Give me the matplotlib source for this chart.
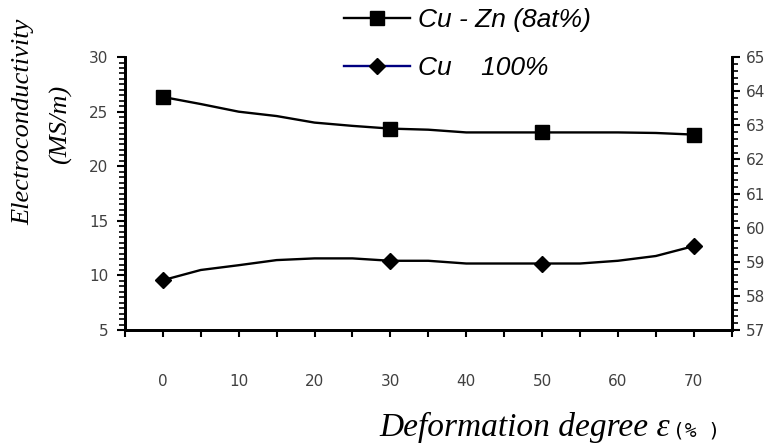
import matplotlib.pyplot as plt
from matplotlib.lines import Line2D
from matplotlib.ticker import MultipleLocator

# deformation degree (%), every 5 %
deform = [0, 5, 10, 15, 20, 25, 30, 35, 40, 45, 50, 55, 60, 65, 70]
# Cu-Zn (8at%) on left axis, MS/m
cu_zn = [26.35, 25.7, 25.0, 24.6, 24.0, 23.7, 23.45, 23.35, 23.1, 23.1, 23.1, 23.1, 23.1, 23.05, 22.9]
# Cu 100% on right axis, MS/m
cu = [58.46, 58.76, 58.90, 59.05, 59.10, 59.10, 59.03, 59.03, 58.95, 58.95, 58.95, 58.95, 59.03, 59.17, 59.46]
measured = [0, 6, 10, 14]  # indices of the measured points (markers)

labels = ['Cu - Zn (8at%)', 'Cu    100%']

fig = plt.figure(figsize=(7.71, 4.46), dpi=100)
ax = fig.add_axes([0.162, 0.260, 0.787, 0.612])
ax2 = ax.twinx()

tick_col = '#404040'

ax.plot(deform, cu_zn, color='black', lw=1.7, marker='s', ms=10,
        markevery=measured, mfc='black', mec='black')
ax2.plot(deform, cu, color='black', lw=1.7, marker='D', ms=8.5,
         markevery=measured, mfc='black', mec='black')

ax.set_xlim(-5, 75)
ax.set_ylim(5, 30)
ax2.set_ylim(57, 65)

ax.xaxis.set_major_locator(MultipleLocator(10))
ax.xaxis.set_minor_locator(MultipleLocator(5))
ax.yaxis.set_major_locator(MultipleLocator(5))
ax.yaxis.set_minor_locator(MultipleLocator(0.5))
ax2.yaxis.set_major_locator(MultipleLocator(1))
ax2.yaxis.set_minor_locator(MultipleLocator(0.2))

for a in (ax, ax2):
    a.spines['top'].set_visible(False)
    for s in ('left', 'right', 'bottom'):
        a.spines[s].set_linewidth(2)

ax.tick_params(axis='x', which='both', direction='out', length=5, width=1.5,
               pad=27, labelsize=11, labelcolor=tick_col)
ax.tick_params(axis='y', which='major', direction='out', length=6, width=1.5,
               pad=6, labelsize=11, labelcolor=tick_col)
ax.tick_params(axis='y', which='minor', direction='out', length=4, width=1.2)
ax2.tick_params(axis='y', which='major', direction='out', length=6, width=1.5,
                pad=4, labelsize=11, labelcolor=tick_col)
ax2.tick_params(axis='y', which='minor', direction='out', length=4, width=1.2)

# y label (two lines)
fig.text(0.030, 0.726, 'Electroconductivity', rotation=90, ha='center', va='center',
         family='Liberation Serif', style='italic', fontsize=19)
fig.text(0.079, 0.72, '(MS/m)', rotation=90, ha='center', va='center',
         family='Liberation Serif', style='italic', fontsize=19)

# x label
fig.text(0.869, 0.022, 'Deformation degree ε', ha='right', va='baseline',
         family='Liberation Serif', style='italic', fontsize=24)
fig.text(0.873, 0.022, '(% )', ha='left', va='baseline',
         family='DejaVu Sans Mono', fontsize=14)

handles = [
    Line2D([], [], color='black', lw=1.7, marker='s', ms=10, mfc='black', mec='black'),
    Line2D([], [], color='#000080', lw=1.7, marker='D', ms=8.5, mfc='black', mec='black'),
]
fig.legend(handles, labels, loc='upper left', bbox_to_anchor=(0.415, 1.035),
           frameon=False, handlelength=2.5, handletextpad=0.3, labelspacing=0.9,
           prop={'family': 'Liberation Sans', 'style': 'italic', 'size': 19})

plt.savefig('out.png', dpi=100)
